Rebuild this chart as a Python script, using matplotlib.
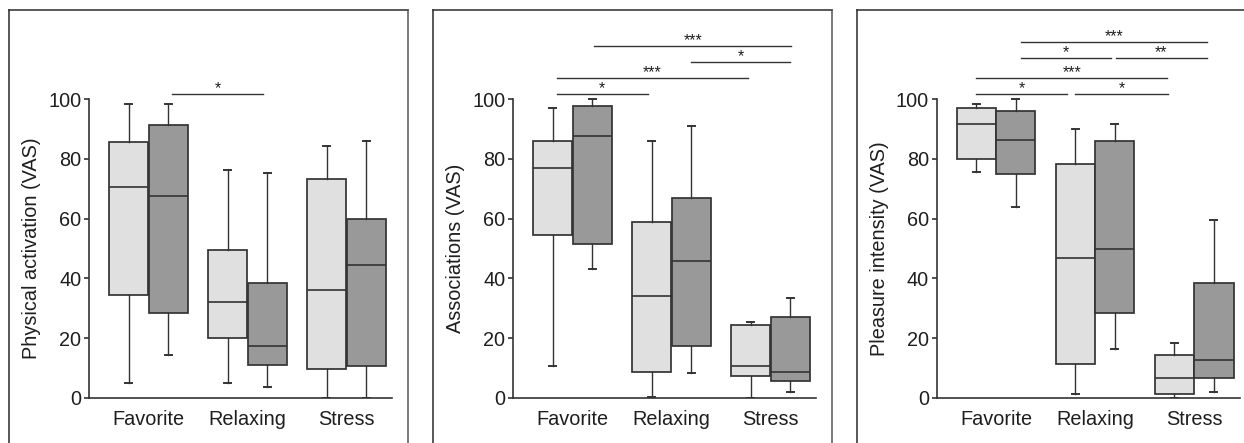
import matplotlib
matplotlib.use("Agg")
import matplotlib.pyplot as plt
from matplotlib.lines import Line2D

plt.rcParams['font.family'] = ['Liberation Sans', 'DejaVu Sans']

categories = ["Favorite", "Relaxing", "Stress"]
ylabels = ["Physical activation (VAS)", "Associations (VAS)", "Pleasure intensity (VAS)"]

# each box: [whisker low, q1, median, q3, whisker high]
# order: Favorite light, Favorite dark, Relaxing light, Relaxing dark, Stress light, Stress dark
activation = [
    [4.8, 34.5, 70.7, 85.8, 98.5],
    [14.2, 28.3, 67.5, 91.3, 98.5],
    [4.8, 20.1, 32.1, 49.5, 76.2],
    [3.6, 10.9, 17.4, 38.3, 75.4],
    [0.0, 9.7, 36.1, 73.2, 84.4],
    [0.0, 10.5, 44.5, 60.0, 86.0],
]
associations = [
    [10.6, 54.4, 77.1, 86.0, 97.2],
    [43.1, 51.4, 87.8, 97.9, 100.0],
    [0.3, 8.5, 34.1, 59.0, 86.0],
    [8.2, 17.4, 45.9, 66.8, 91.2],
    [0.0, 7.2, 10.7, 24.5, 25.4],
    [1.8, 5.6, 8.5, 27.2, 33.5],
]
pleasure = [
    [75.6, 80.0, 91.8, 97.2, 98.5],
    [63.8, 75.0, 86.3, 96.0, 100.0],
    [1.2, 11.4, 46.7, 78.4, 89.9],
    [16.4, 28.3, 49.9, 86.0, 91.8],
    [0.0, 1.3, 6.7, 14.2, 18.3],
    [1.8, 6.7, 12.5, 38.3, 59.6],
]

# significance brackets: (x start, x end, height, label)
activation_sig = [(0.24, 1.16, 101.8, "*")]
associations_sig = [
    (-0.16, 0.76, 101.8, "*"),
    (-0.16, 1.77, 107.3, "***"),
    (1.20, 2.20, 112.6, "*"),
    (0.22, 2.21, 117.9, "***"),
]
pleasure_sig = [
    (-0.20, 0.72, 101.8, "*"),
    (0.80, 1.74, 101.8, "*"),
    (-0.20, 1.73, 107.3, "***"),
    (0.25, 1.16, 114.0, "*"),
    (1.21, 2.13, 114.0, "**"),
    (0.25, 2.13, 119.2, "***"),
]

panels = [
    (activation, activation_sig),
    (associations, associations_sig),
    (pleasure, pleasure_sig),
]

light = "#e0e0e0"
dark = "#999999"
edge = "#333333"
text_color = "#1e1e1e"

W, H = 1244, 443
fig = plt.figure(figsize=(W / 100, H / 100), dpi=100)

axes_left = [89, 513, 936.7]
axes_width = 303
y0_px = 397.7
px_per_unit = 2.984
ytop = 128

for k, (stats, sig) in enumerate(panels):
    ax = fig.add_axes([axes_left[k] / W, 1 - y0_px / H,
                       axes_width / W, ytop * px_per_unit / H])
    bxp_stats = []
    positions = []
    for i, s in enumerate(stats):
        group = i // 2
        positions.append(group + (-0.2 if i % 2 == 0 else 0.2))
        bxp_stats.append(dict(whislo=s[0], q1=s[1], med=s[2], q3=s[3],
                              whishi=s[4], fliers=[]))
    bp = ax.bxp(bxp_stats, positions=positions, widths=0.395,
                patch_artist=True, showfliers=False, capwidths=0.07,
                boxprops=dict(edgecolor=edge, linewidth=1.25),
                medianprops=dict(color=edge, linewidth=1.2),
                whiskerprops=dict(color=edge, linewidth=1.0),
                capprops=dict(color=edge, linewidth=1.4))
    for i, patch in enumerate(bp["boxes"]):
        patch.set_facecolor(light if i % 2 == 0 else dark)
        patch.set_zorder(2)

    for x0, x1, yv, lab in sig:
        ax.plot([x0, x1], [yv, yv], color=edge, linewidth=1.0, clip_on=False)
        ax.annotate(lab, xy=((x0 + x1) / 2, yv), xytext=(0, 0.5),
                    textcoords="offset points", ha="center", va="baseline",
                    fontsize=11.5, color=text_color, annotation_clip=False)

    ax.set_xlim(-0.6, 2.46)
    ax.set_ylim(0, ytop)
    ax.set_xticks(range(len(categories)))
    ax.set_xticklabels(categories)
    ax.set_yticks([0, 20, 40, 60, 80, 100])
    ax.spines["top"].set_visible(False)
    ax.spines["right"].set_visible(False)
    ax.spines["left"].set_bounds(0, 100)
    for side in ("left", "bottom"):
        ax.spines[side].set_color(edge)
        ax.spines[side].set_linewidth(1.2)
    ax.tick_params(axis="x", length=0, pad=9, labelsize=14.3, labelcolor=text_color)
    ax.tick_params(axis="y", length=3.6, width=1.2, color=edge, pad=2,
                   labelsize=14.3, labelcolor=text_color)
    ax.set_ylabel(ylabels[k], fontsize=14.3, color=text_color)
    ax.yaxis.set_label_coords(-0.157, 50 / ytop)
    ax.patch.set_alpha(0)

# panel frames (open at the bottom)
frames = [(8.7, 408.0), (432.7, 832.0), (856.7, None)]
top = 1 - 10 / H
for left, right in frames:
    xr = (right if right is not None else W) / W
    fig.add_artist(Line2D([left / W, left / W], [0, top], color="#2a2a2a", linewidth=1.1))
    fig.add_artist(Line2D([left / W, xr], [top, top], color="#2a2a2a", linewidth=1.1))
    if right is not None:
        fig.add_artist(Line2D([xr, xr], [0, top], color="#555555", linewidth=1.1))

fig.savefig("out.png", dpi=100)
